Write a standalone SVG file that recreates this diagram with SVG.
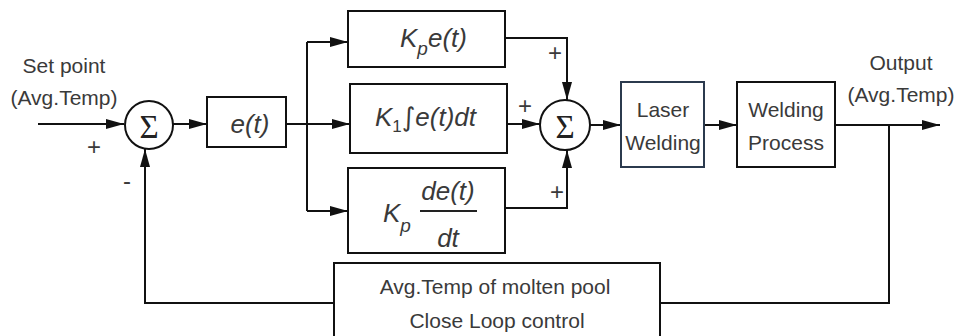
<svg xmlns="http://www.w3.org/2000/svg" width="959" height="336" viewBox="0 0 959 336">
<style>
.box{fill:#fff;stroke:#111;stroke-width:2}
.ln{fill:none;stroke:#111;stroke-width:2}
.t{font-family:"Liberation Sans",Arial,sans-serif;font-size:21px;fill:#3a3a3a;text-anchor:middle}
.pm{font-family:"Liberation Sans",Arial,sans-serif;font-size:24px;fill:#3a3a3a;text-anchor:middle}
.m{font-family:"Liberation Sans",Arial,sans-serif;font-size:26px;font-style:italic;fill:#3a3a3a}
.s{font-family:"Liberation Serif","DejaVu Serif",serif;font-size:33px;fill:#222;text-anchor:middle}
</style>
<defs>
<marker id="ah" markerUnits="userSpaceOnUse" markerWidth="18" markerHeight="10" refX="18" refY="5" orient="auto">
<path d="M0,0 L18,5 L0,10 z" fill="#111"/>
</marker>
</defs>
<rect width="959" height="336" fill="#fff"/>
<g id="connectors">
<path class="ln" d="M38,124 H124" marker-end="url(#ah)"/>
<path class="ln" d="M173,124 H207" marker-end="url(#ah)"/>
<path class="ln" d="M286,124 H307"/>
<path class="ln" d="M307,42 V211"/>
<path class="ln" d="M307,42 H348" marker-end="url(#ah)"/>
<path class="ln" d="M307,124 H350" marker-end="url(#ah)"/>
<path class="ln" d="M307,211 H348" marker-end="url(#ah)"/>
<path class="ln" d="M505,38 H567 V100" marker-end="url(#ah)"/>
<path class="ln" d="M507,124 H540" marker-end="url(#ah)"/>
<path class="ln" d="M505,208 H567 V150" marker-end="url(#ah)"/>
<path class="ln" d="M590,125 H621" marker-end="url(#ah)"/>
<path class="ln" d="M704,125 H737" marker-end="url(#ah)"/>
<path class="ln" d="M835,125 H940" marker-end="url(#ah)"/>
<path class="ln" d="M889,125 V303 H660"/>
<path class="ln" d="M334,303 H145 V149" marker-end="url(#ah)"/>
</g>
<g id="setpoint">
<text class="t" x="64" y="73" font-size="22">Set point</text>
<text class="t" x="64" y="105" font-size="22">(Avg.Temp)</text>
</g>
<g id="sum1">
<circle cx="149" cy="125" r="24" class="box"/>
<text class="s" x="149" y="138">Σ</text>
<text class="pm" x="94" y="155">+</text>
<text class="pm" x="127" y="189">-</text>
</g>
<g id="error">
<rect class="box" x="207" y="97" width="79" height="50"/>
<text class="m" x="250" y="133" text-anchor="middle">e(t)</text>
</g>
<g id="proportional">
<rect class="box" x="348" y="11" width="157" height="56"/>
<text class="m" x="400" y="47">K<tspan dy="8" font-size="19">p</tspan><tspan dy="-8">e(t)</tspan></text>
<text class="pm" x="555" y="61">+</text>
</g>
<g id="integral">
<rect class="box" x="350" y="84" width="157" height="69"/>
<text class="m" x="375" y="126">K<tspan dy="6" font-size="17" font-style="normal">1</tspan><tspan dy="-6" font-style="normal" font-family="DejaVu Sans" font-size="26">∫</tspan><tspan>e(t)dt</tspan></text>
<text class="pm" x="525" y="114">+</text>
</g>
<g id="derivative">
<rect class="box" x="348" y="168" width="157" height="85"/>
<text class="m" x="383" y="222">K<tspan dy="10" font-size="19">p</tspan></text>
<line x1="420" y1="211" x2="477" y2="211" stroke="#222" stroke-width="2"/>
<text class="m" x="448" y="200" text-anchor="middle">de(t)</text>
<text class="m" x="448" y="247" text-anchor="middle">dt</text>
<text class="pm" x="557" y="200">+</text>
</g>
<g id="sum2">
<circle cx="565" cy="125" r="25" class="box"/>
<text class="s" x="565" y="138">Σ</text>
</g>
<g id="laser">
<rect x="621" y="82" width="83" height="85" fill="#fff" stroke="#2b3a4e" stroke-width="2"/>
<text class="t" x="663" y="117">Laser</text>
<text class="t" x="663" y="150">Welding</text>
</g>
<g id="process">
<rect class="box" x="737" y="82" width="98" height="85"/>
<text class="t" x="786" y="117">Welding</text>
<text class="t" x="786" y="150">Process</text>
</g>
<g id="output">
<text class="t" x="901" y="70">Output</text>
<text class="t" x="901" y="102">(Avg.Temp)</text>
</g>
<g id="feedback">
<rect class="box" x="334" y="263" width="326" height="80"/>
<text class="t" x="495" y="294" font-size="24">Avg.Temp of molten pool</text>
<text class="t" x="497" y="328" font-size="24">Close Loop control</text>
</g>
</svg>
